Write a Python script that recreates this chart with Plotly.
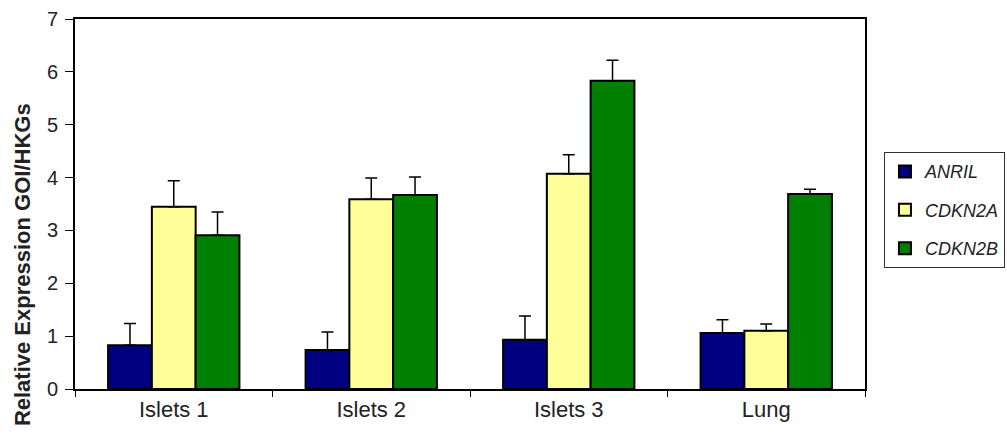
import plotly.graph_objects as go

# Sample groups and genes of interest
categories = ["Islets 1", "Islets 2", "Islets 3", "Lung"]
genes = ["ANRIL", "CDKN2A", "CDKN2B"]

# Mean relative expression (GOI / housekeeping genes)
anril = [0.83, 0.74, 0.93, 1.06]
cdkn2a = [3.45, 3.59, 4.07, 1.10]
cdkn2b = [2.91, 3.67, 5.83, 3.69]

# Upper error (SEM) for each bar
anril_err = [0.41, 0.34, 0.45, 0.25]
cdkn2a_err = [0.49, 0.40, 0.36, 0.13]
cdkn2b_err = [0.44, 0.34, 0.39, 0.09]

colors = ["#000080", "#FFFF99", "#008000"]

fig = go.Figure()
for name, vals, errs, col in zip(
    genes, [anril, cdkn2a, cdkn2b], [anril_err, cdkn2a_err, cdkn2b_err], colors
):
    fig.add_trace(
        go.Bar(
            x=categories,
            y=vals,
            name=f"<i>{name}</i>",
            legendgroup=name,
            marker=dict(color=col, line=dict(color="black", width=2)),
            error_y=dict(
                type="data",
                symmetric=False,
                array=errs,
                arrayminus=[0] * len(errs),
                color="black",
                thickness=1.5,
                width=6,
            ),
        )
    )

fig.update_layout(
    width=1007,
    height=439,
    margin=dict(l=75, r=142, t=19, b=50, autoexpand=False),
    paper_bgcolor="white",
    plot_bgcolor="white",
    barmode="group",
    bargap=0.335,
    bargroupgap=0,
    font=dict(family="Liberation Sans, Arial, sans-serif", color="#222"),
    showlegend=True,
    legend=dict(
        x=1.024,
        xanchor="left",
        y=0.64,
        yanchor="top",
        bordercolor="#333",
        borderwidth=1,
        font=dict(size=18, color="#222"),
        tracegroupgap=12,
        itemwidth=30,
    ),
)

# Axis title placed as a rotated annotation, sitting low beside the y axis
fig.add_annotation(
    text="<b>Relative Expression GOI/HKGs</b>",
    textangle=-90,
    xref="paper",
    yref="paper",
    x=-0.067,
    y=0.335,
    xanchor="center",
    yanchor="middle",
    showarrow=False,
    font=dict(size=22, color="#222"),
)

fig.update_xaxes(
    showline=True,
    linecolor="black",
    linewidth=2,
    mirror=True,
    ticks="outside",
    tickson="boundaries",
    ticklen=6,
    tickcolor="black",
    tickwidth=1,
    tickfont=dict(size=22, color="#222"),
    showgrid=False,
)

fig.update_yaxes(
    range=[0, 7],
    dtick=1,
    showline=True,
    linecolor="black",
    linewidth=2,
    mirror=True,
    ticks="outside",
    ticklen=8,
    tickcolor="black",
    tickwidth=1,
    tickfont=dict(size=20, color="#222"),
    ticklabelstandoff=3,
    showgrid=False,
    zeroline=False,
)

fig.write_html("out.html")
